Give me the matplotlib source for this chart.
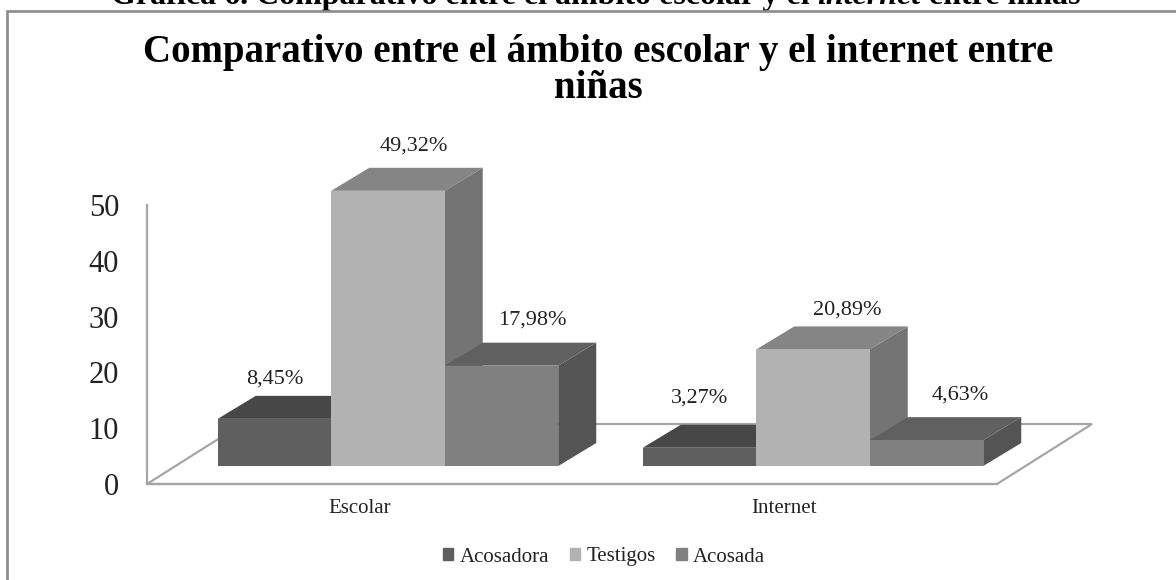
import matplotlib
matplotlib.use("Agg")
import matplotlib.pyplot as plt
from matplotlib.lines import Line2D
from matplotlib.patches import Polygon, Rectangle

categories = ["Escolar", "Internet"]
series = ["Acosadora", "Testigos", "Acosada"]
acosadora = [8.45, 3.27]
testigos = [49.32, 20.89]
acosada = [17.98, 4.63]
labels = [["8,45%", "3,27%"], ["49,32%", "20,89%"], ["17,98%", "4,63%"]]
yticks = [0, 10, 20, 30, 40, 50]

# hand placed label nudges in pixels, same shape as labels
lab_dx = [[0, 0], [26, 34], [31, 34]]
lab_dy = [[17, 27], [22, 16], [23, 22]]

W, H = 1176, 580
front = ["#5f5f5f", "#b2b2b2", "#808080"]
top = ["#474747", "#858585", "#606060"]
side = ["#3f3f3f", "#747474", "#545454"]
line_c = "#a6a6a6"
text_c = "#222222"

plt.rcParams["font.family"] = ["Liberation Serif", "DejaVu Serif"]

fig = plt.figure(figsize=(W / 100, H / 100), dpi=100)
fig.patch.set_facecolor("white")

# plot area in pixels: floor front edge and y axis
x0, x1, y0, y1 = 147, 997, 484, 205
ax = fig.add_axes([x0 / W, 1 - y0 / H, (x1 - x0) / W, (y0 - y1) / H])
ax.set_xlim(-0.5, 1.5)
ax.set_ylim(0, 50)
ax.patch.set_visible(False)

px_x = (x1 - x0) / 2   # pixels per category
px_y = (y0 - y1) / 50  # pixels per unit

bar_w = 113.5 / px_x
dx, dy = 38 / px_x, 23 / px_y            # bar depth
lift_x, lift_y = 28.5 / px_x, 18 / px_y  # bars stand inside the floor
fx, fy = 95 / px_x, 60 / px_y            # floor depth

# floor
ax.add_patch(Polygon([(-0.5, 0), (1.5, 0), (1.5 + fx, fy), (-0.5 + fx, fy)], closed=True,
                     facecolor="white", edgecolor=line_c, lw=1.6, clip_on=False, zorder=1))

values = [acosadora, testigos, acosada]
for c in range(len(categories)):
    for s in [0, 1, 2]:
        v = values[s][c]
        left = c + lift_x + (s - 1.5) * bar_w
        base = lift_y
        z = 3 + s
        ax.bar(left, v, bar_w, bottom=base, align="edge", color=front[s], clip_on=False, zorder=z + 0.2)
        ax.add_patch(Polygon([(left, base + v), (left + bar_w, base + v),
                              (left + bar_w + dx, base + v + dy), (left + dx, base + v + dy)],
                             closed=True, facecolor=top[s], edgecolor="none", clip_on=False, zorder=z))
        ax.add_patch(Polygon([(left + bar_w, base), (left + bar_w + dx, base + dy),
                              (left + bar_w + dx, base + v + dy), (left + bar_w, base + v)],
                             closed=True, facecolor=side[s], edgecolor="none", clip_on=False, zorder=z))
        ax.annotate(labels[s][c], xy=(left + bar_w / 2, base + v + dy),
                    xytext=(lab_dx[s][c] * 0.72, lab_dy[s][c] * 0.72), textcoords="offset points",
                    ha="center", va="center", fontsize=16, color=text_c, zorder=10, annotation_clip=False)

for sp in ["top", "right"]:
    ax.spines[sp].set_visible(False)
for sp in ["left", "bottom"]:
    ax.spines[sp].set_color(line_c)
    ax.spines[sp].set_linewidth(1.6)
    ax.spines[sp].set_zorder(2)

ax.set_yticks(yticks)
ax.set_xticks([0, 1])
ax.set_xticklabels(categories)
ax.tick_params(axis="y", length=0, pad=20, labelsize=22, labelcolor=text_c)
ax.tick_params(axis="x", length=0, pad=11, labelsize=15, labelcolor=text_c)

# frame of the chart: only the top and left edges show
frame_y = 1 - 11.3 / H
frame_x = 7 / W
fig.add_artist(Line2D([frame_x, frame_x, 1], [0, frame_y, frame_y], transform=fig.transFigure,
                      color="#8c8c8c", lw=1.9, solid_joinstyle="miter"))

fig.text(598 / W, 1 - 62 / H, "Comparativo entre el ámbito escolar y el internet entre",
         ha="center", va="baseline", fontsize=28, fontweight="bold", color="black")
fig.text(598 / W, 1 - 98 / H, "niñas", ha="center", va="baseline", fontsize=28, fontweight="bold", color="black")

# heading above the frame, cut by the top edge
head = ax.annotate("Gráfica 6. Comparativo entre el ámbito escolar y el ", xy=(111 / W, 1 - 4 / H),
                   xycoords="figure fraction", fontsize=23, fontweight="bold", va="baseline", annotation_clip=False)
head2 = ax.annotate("internet", xy=(1, 0), xycoords=head, fontsize=23, fontweight="bold", style="italic",
                    va="bottom", annotation_clip=False)
ax.annotate(" entre niñas", xy=(1, 0), xycoords=head2, fontsize=23, fontweight="bold", va="bottom",
            annotation_clip=False)

# legend
handles = [Rectangle((0, 0), 1, 1, color=front[i]) for i in range(3)]
fig.legend(handles, series, loc="center", bbox_to_anchor=(604 / W, 1 - 557 / H), ncol=3, frameon=False,
           fontsize=15, handlelength=0.5, handleheight=0.45, handletextpad=0.3, columnspacing=1.0,
           labelcolor=text_c)

fig.savefig("out.png", dpi=100)
